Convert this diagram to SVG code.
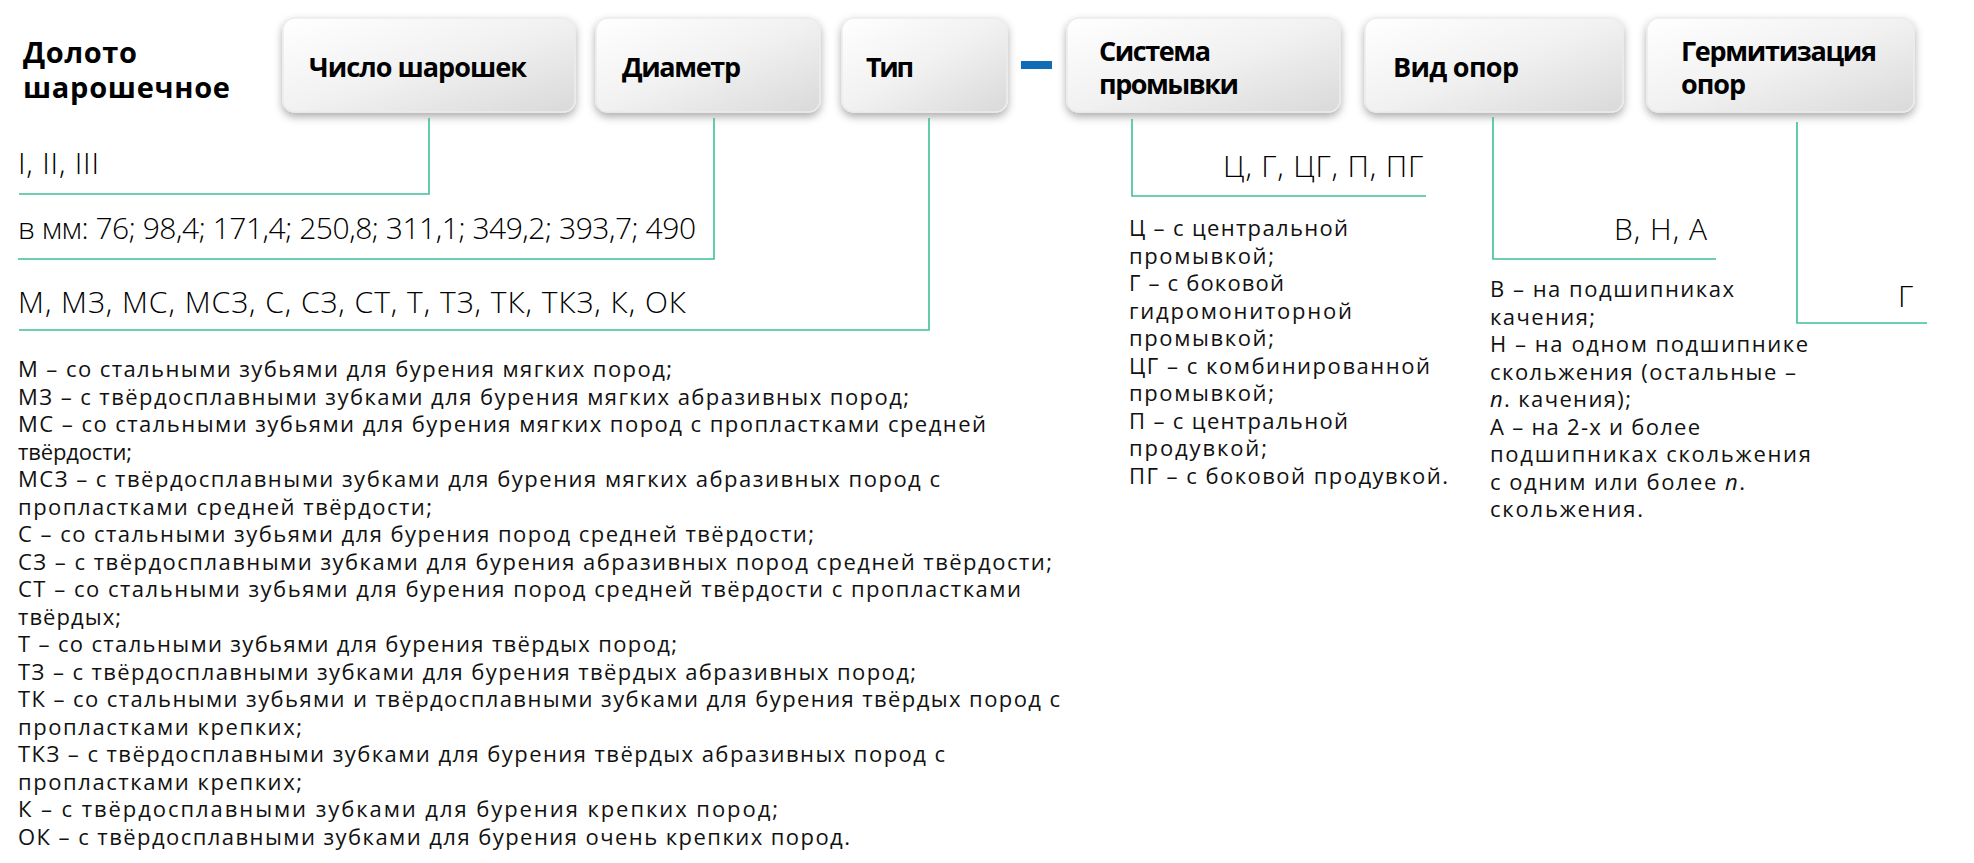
<svg xmlns="http://www.w3.org/2000/svg" width="1974" height="863" viewBox="0 0 1974 863">
<style>
.box{fill:url(#bg);stroke:#ebebeb;stroke-width:1.5;filter:url(#sh)}
.lbl{font-family:"Open Sans","DejaVu Sans",sans-serif;font-weight:700;font-size:27px;fill:#000}
.ttl{font-family:"Open Sans","DejaVu Sans",sans-serif;font-weight:700;font-size:29px;fill:#000}
.big{font-family:"Open Sans","DejaVu Sans",sans-serif;font-weight:300;font-size:30px;fill:#000}
.desc{font-family:"Open Sans","DejaVu Sans",sans-serif;font-weight:400;font-size:22px;fill:#111}
.conn{fill:none;stroke:#3fbf9a;stroke-width:1.6}
</style>
<defs>
<linearGradient id="bg" x1="0" y1="0" x2="1" y2="1">
<stop offset="0" stop-color="#ffffff"/>
<stop offset="0.5" stop-color="#f1f1f1"/>
<stop offset="1" stop-color="#d9d9d9"/>
</linearGradient>
<filter id="sh" x="-10%" y="-20%" width="120%" height="150%">
<feDropShadow dx="0" dy="4" stdDeviation="4.5" flood-color="#000" flood-opacity="0.33"/>
</filter>
</defs>
<rect width="1974" height="863" fill="#fff"/>

<g id="title">
<text class="ttl"><tspan x="23" y="63" textLength="114">Долото</tspan><tspan x="23" y="98" textLength="207">шарошечное</tspan></text>
</g>

<g id="node-chislo">
<rect class="box" x="283" y="18" width="292" height="94" rx="12"/>
<text class="lbl" x="309" y="77" textLength="218">Число шарошек</text>
</g>
<g id="node-diametr">
<rect class="box" x="596" y="18" width="224" height="94" rx="12"/>
<text class="lbl" x="622" y="77" textLength="119">Диаметр</text>
</g>
<g id="node-tip">
<rect class="box" x="842" y="18" width="165" height="94" rx="12"/>
<text class="lbl" x="866" y="77" textLength="48">Тип</text>
</g>
<g id="dash">
<rect x="1021" y="61" width="31" height="8" fill="#0f6cb5"/>
</g>
<g id="node-sistema">
<rect class="box" x="1067" y="18" width="273" height="94" rx="12"/>
<text class="lbl"><tspan x="1099" y="61" textLength="112">Система</tspan><tspan x="1099" y="94" textLength="140">промывки</tspan></text>
</g>
<g id="node-vid">
<rect class="box" x="1365" y="18" width="258" height="94" rx="12"/>
<text class="lbl" x="1393" y="77" textLength="126">Вид опор</text>
</g>
<g id="node-germ">
<rect class="box" x="1647" y="18" width="267" height="94" rx="12"/>
<text class="lbl"><tspan x="1681" y="61" textLength="196">Гермитизация</tspan><tspan x="1681" y="94" textLength="65">опор</tspan></text>
</g>

<g id="connectors">
<path class="conn" d="M429,118 V194 H19"/>
<path class="conn" d="M714,118 V259 H18"/>
<path class="conn" d="M929,118 V330 H19"/>
<path class="conn" d="M1132,119 V196 H1426"/>
<path class="conn" d="M1493,117 V259 H1716"/>
<path class="conn" d="M1797,122 V323 H1927"/>
</g>

<g id="values">
<text class="big" x="18" y="174" textLength="81">I, II, III</text>
<text class="big" x="18" y="239" textLength="678">в мм: 76; 98,4; 171,4; 250,8; 311,1; 349,2; 393,7; 490</text>
<text class="big" x="18" y="313" textLength="668">М, МЗ, МС, МСЗ, С, СЗ, СТ, Т, ТЗ, ТК, ТКЗ, К, ОК</text>
<text class="big" x="1423" y="177" text-anchor="end" textLength="200">Ц, Г, ЦГ, П, ПГ</text>
<text class="big" x="1707" y="240" text-anchor="end" textLength="93">В, Н, А</text>
<text class="big" x="1913" y="307" text-anchor="end">Г</text>
</g>

<g id="desc-tip">
<text class="desc" x="18" y="377" textLength="654">М – со стальными зубьями для бурения мягких пород;</text>
<text class="desc" x="18" y="404.5" textLength="891">МЗ – с твёрдосплавными зубками для бурения мягких абразивных пород;</text>
<text class="desc" x="18" y="432" textLength="968">МС – со стальными зубьями для бурения мягких пород с пропластками средней</text>
<text class="desc" x="18" y="459.5" textLength="114">твёрдости;</text>
<text class="desc" x="18" y="487" textLength="922">МСЗ – с твёрдосплавными зубками для бурения мягких абразивных пород с</text>
<text class="desc" x="18" y="514.5" textLength="414">пропластками средней твёрдости;</text>
<text class="desc" x="18" y="542" textLength="796">С – со стальными зубьями для бурения пород средней твёрдости;</text>
<text class="desc" x="18" y="569.5" textLength="1034">СЗ – с твёрдосплавными зубками для бурения абразивных пород средней твёрдости;</text>
<text class="desc" x="18" y="597" textLength="1003">СТ – со стальными зубьями для бурения пород средней твёрдости с пропластками</text>
<text class="desc" x="18" y="624.5" textLength="103">твёрдых;</text>
<text class="desc" x="18" y="652" textLength="659">Т – со стальными зубьями для бурения твёрдых пород;</text>
<text class="desc" x="18" y="679.5" textLength="898">ТЗ – с твёрдосплавными зубками для бурения твёрдых абразивных пород;</text>
<text class="desc" x="18" y="707" textLength="1042">ТК – со стальными зубьями и твёрдосплавными зубками для бурения твёрдых пород с</text>
<text class="desc" x="18" y="734.5" textLength="284">пропластками крепких;</text>
<text class="desc" x="18" y="762" textLength="927">ТКЗ – с твёрдосплавными зубками для бурения твёрдых абразивных пород с</text>
<text class="desc" x="18" y="789.5" textLength="284">пропластками крепких;</text>
<text class="desc" x="18" y="817" textLength="760">К – с твёрдосплавными зубками для бурения крепких пород;</text>
<text class="desc" x="18" y="844.5" textLength="832">ОК – с твёрдосплавными зубками для бурения очень крепких пород.</text>
</g>

<g id="desc-sistema">
<text class="desc" x="1129" y="236" textLength="219">Ц – с центральной</text>
<text class="desc" x="1129" y="263.5" textLength="145">промывкой;</text>
<text class="desc" x="1129" y="291" textLength="155">Г – с боковой</text>
<text class="desc" x="1129" y="318.5" textLength="223">гидромониторной</text>
<text class="desc" x="1129" y="346" textLength="145">промывкой;</text>
<text class="desc" x="1129" y="373.5" textLength="301">ЦГ – с комбинированной</text>
<text class="desc" x="1129" y="401" textLength="145">промывкой;</text>
<text class="desc" x="1129" y="428.5" textLength="219">П – с центральной</text>
<text class="desc" x="1129" y="456" textLength="138">продувкой;</text>
<text class="desc" x="1129" y="483.5" textLength="319">ПГ – с боковой продувкой.</text>
</g>

<g id="desc-vid">
<text class="desc" x="1490" y="297" textLength="244">В – на подшипниках</text>
<text class="desc" x="1490" y="324.5" textLength="105">качения;</text>
<text class="desc" x="1490" y="352" textLength="318">Н – на одном подшипнике</text>
<text class="desc" x="1490" y="379.5" textLength="306">скольжения (остальные –</text>
<text class="desc" x="1490" y="407" textLength="141"><tspan font-style="italic">п</tspan>. качения);</text>
<text class="desc" x="1490" y="434.5" textLength="210">А – на 2-х и более</text>
<text class="desc" x="1490" y="462" textLength="321">подшипниках скольжения</text>
<text class="desc" x="1490" y="489.5" textLength="255">с одним или более <tspan font-style="italic">п</tspan>.</text>
<text class="desc" x="1490" y="517" textLength="153">скольжения.</text>
</g>
</svg>
